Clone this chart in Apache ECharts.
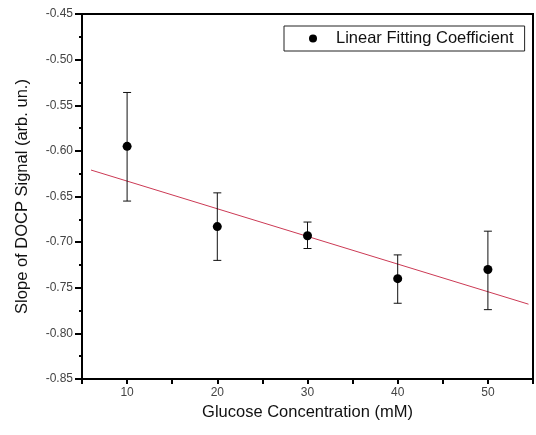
<!DOCTYPE html>
<html>
<head>
<meta charset="utf-8">
<script src="https://cdn.jsdelivr.net/npm/echarts@6/dist/echarts.min.js"></script>
<style>html,body{margin:0;padding:0;background:#fff}#c{width:536px;height:435px}</style>
</head>
<body>
<div id="c"></div>
<script>
// Data
var concentration = [10, 20, 30, 40, 50];
var slopeValues = [-0.595, -0.683, -0.693, -0.740, -0.730];
var errorUpper = [-0.536, -0.646, -0.678, -0.714, -0.688];
var errorLower = [-0.655, -0.720, -0.707, -0.767, -0.774];
var fitX = [6, 54.5];
var fitY = [-0.621, -0.768];
var seriesName = 'Linear Fitting Coefficient';
var xTitle = 'Glucose Concentration (mM)';
var yTitle = 'Slope of DOCP Signal (arb. un.)';

var font = '"Liberation Sans", Arial, sans-serif';
var chart = echarts.init(document.getElementById('c'), null, {renderer: 'canvas'});

var pointData = concentration.map(function (x, i) { return [x, slopeValues[i]]; });
var errData = concentration.map(function (x, i) { return [x, errorLower[i], errorUpper[i]]; });
var fitData = fitX.map(function (x, i) { return [x, fitY[i]]; });

chart.setOption({
  animation: false,
  backgroundColor: '#fff',
  grid: {left: 82, top: 14, width: 459, height: 365, show: true, borderColor: '#000', borderWidth: 2, backgroundColor: 'transparent'},
  legend: {
    data: [seriesName],
    left: 284, top: 26,
    padding: [4, 11, 4, 25],
    borderColor: '#222', borderWidth: 1,
    itemWidth: 36, itemHeight: 8,
    icon: 'circle',
    textStyle: {fontFamily: font, fontSize: 16.5, color: '#111'}
  },
  xAxis: {
    type: 'value', min: 5, max: 55, interval: 5,
    name: xTitle, nameLocation: 'middle', nameGap: 25,
    nameTextStyle: {fontFamily: font, fontSize: 16.5, color: '#111'},
    axisLine: {show: true, lineStyle: {color: '#000', width: 2}},
    axisTick: {show: true, inside: false, length: 5, lineStyle: {color: '#000', width: 2}},
    axisLabel: {fontFamily: font, fontSize: 12, color: '#444', margin: 8,
      formatter: function (v) { return (v % 10 === 0) ? String(v) : ''; }},
    splitLine: {show: false}
  },
  yAxis: {
    type: 'value', min: -0.85, max: -0.45, interval: 0.05,
    name: yTitle, nameLocation: 'middle', nameGap: 51, nameRotate: 90,
    nameTextStyle: {fontFamily: font, fontSize: 16.5, color: '#111'},
    axisLine: {show: true, lineStyle: {color: '#000', width: 2}},
    axisTick: {show: true, inside: false, length: 7, lineStyle: {color: '#000', width: 2}},
    minorTick: {show: true, splitNumber: 2, length: 3, lineStyle: {color: '#000', width: 2}},
    axisLabel: {fontFamily: font, fontSize: 12, color: '#444', margin: 9,
      formatter: function (v) { return v.toFixed(2); }},
    splitLine: {show: false}
  },
  series: [
    {
      type: 'line', name: 'fit', data: fitData, symbol: 'none',
      lineStyle: {color: '#cc3a55', width: 1}, silent: true, z: 2
    },
    {
      type: 'custom', name: 'err', data: errData, z: 3,
      renderItem: function (params, api) {
        var x = api.value(0);
        var lo = api.coord([x, api.value(1)]);
        var hi = api.coord([x, api.value(2)]);
        var hw = 4;
        var st = {stroke: '#111', lineWidth: 1};
        return {type: 'group', children: [
          {type: 'line', shape: {x1: lo[0], y1: lo[1], x2: hi[0], y2: hi[1]}, style: st},
          {type: 'line', shape: {x1: lo[0] - hw, y1: lo[1], x2: lo[0] + hw, y2: lo[1]}, style: st},
          {type: 'line', shape: {x1: hi[0] - hw, y1: hi[1], x2: hi[0] + hw, y2: hi[1]}, style: st}
        ]};
      }
    },
    {
      type: 'scatter', name: seriesName, data: pointData, symbol: 'circle', symbolSize: 9,
      itemStyle: {color: '#000', opacity: 1}, z: 4
    }
  ]
});
</script>
</body>
</html>
